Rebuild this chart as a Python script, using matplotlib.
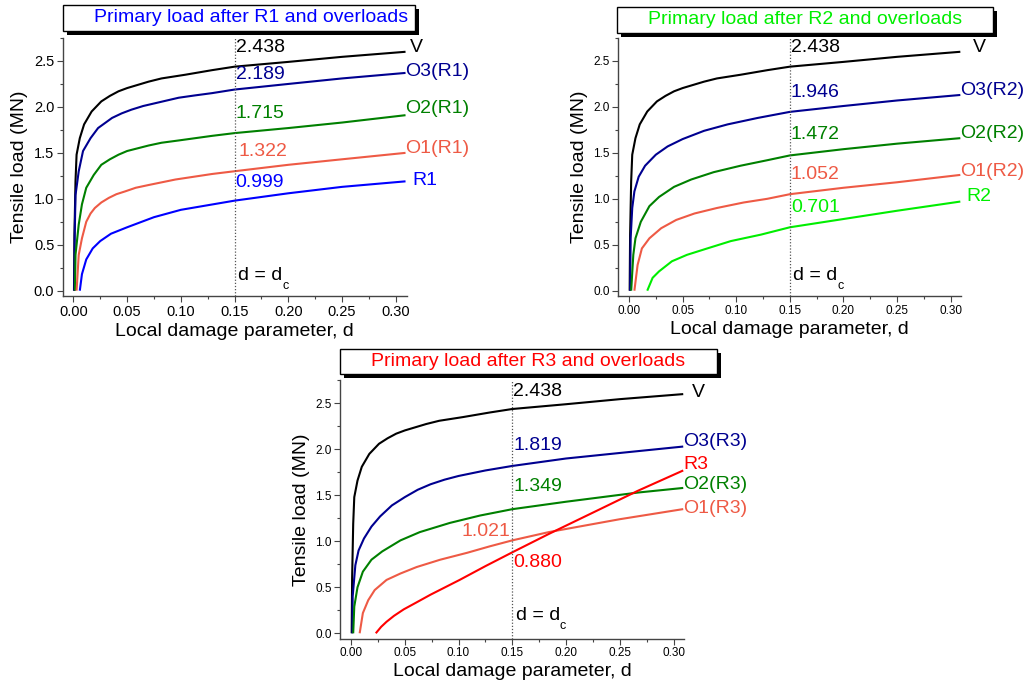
import numpy as np
import matplotlib
matplotlib.use('Agg')
import matplotlib.pyplot as plt
from matplotlib.patches import Rectangle
from matplotlib.ticker import MultipleLocator, FormatStrFormatter

plt.rcParams['font.family'] = ['Liberation Sans', 'DejaVu Sans']
plt.rcParams['mathtext.default'] = 'regular'

# valores (d, carga em MN)
d_V = [0.0006, 0.001, 0.002, 0.003, 0.006, 0.010, 0.017, 0.026, 0.034, 0.042, 0.050, 0.060, 0.070, 0.082, 0.093, 0.104, 0.129, 0.150, 0.200, 0.250, 0.309]
L_V = [0.00, 0.60, 1.19, 1.48, 1.66, 1.81, 1.95, 2.06, 2.12, 2.17, 2.205, 2.24, 2.275, 2.31, 2.33, 2.35, 2.40, 2.438, 2.49, 2.545, 2.60]

# painel R1
d_O3R1 = [0.0009, 0.0012, 0.002, 0.005, 0.009, 0.016, 0.023, 0.036, 0.045, 0.054, 0.065, 0.076, 0.087, 0.098, 0.113, 0.129, 0.150, 0.200, 0.250, 0.309]
L_O3R1 = [0.00, 0.57, 1.04, 1.30, 1.52, 1.66, 1.77, 1.88, 1.93, 1.97, 2.01, 2.04, 2.07, 2.10, 2.125, 2.15, 2.189, 2.25, 2.31, 2.37]
d_O2R1 = [0.0015, 0.002, 0.005, 0.008, 0.012, 0.019, 0.026, 0.034, 0.042, 0.050, 0.060, 0.070, 0.082, 0.098, 0.129, 0.150, 0.200, 0.250, 0.309]
L_O2R1 = [0.00, 0.39, 0.72, 0.94, 1.12, 1.26, 1.37, 1.43, 1.48, 1.52, 1.55, 1.58, 1.61, 1.635, 1.685, 1.715, 1.77, 1.83, 1.91]
d_O1R1 = [0.003, 0.005, 0.008, 0.012, 0.016, 0.020, 0.026, 0.033, 0.040, 0.048, 0.058, 0.070, 0.095, 0.129, 0.150, 0.200, 0.250, 0.309]
L_O1R1 = [0.00, 0.39, 0.57, 0.75, 0.84, 0.90, 0.96, 1.01, 1.05, 1.08, 1.12, 1.15, 1.21, 1.27, 1.30, 1.37, 1.43, 1.50]
d_R1 = [0.006, 0.008, 0.012, 0.018, 0.025, 0.035, 0.050, 0.075, 0.100, 0.125, 0.150, 0.200, 0.250, 0.309]
L_R1 = [0.00, 0.18, 0.34, 0.46, 0.54, 0.62, 0.69, 0.80, 0.88, 0.93, 0.98, 1.06, 1.13, 1.19]

# painel R2
d_O3R2 = [0.001, 0.0015, 0.003, 0.005, 0.009, 0.015, 0.025, 0.036, 0.050, 0.070, 0.092, 0.120, 0.150, 0.200, 0.250, 0.309]
L_O3R2 = [0.00, 0.57, 0.90, 1.08, 1.24, 1.36, 1.48, 1.57, 1.65, 1.74, 1.81, 1.88, 1.946, 2.01, 2.07, 2.13]
d_O2R2 = [0.002, 0.004, 0.006, 0.011, 0.019, 0.028, 0.042, 0.058, 0.079, 0.104, 0.129, 0.150, 0.200, 0.250, 0.309]
L_O2R2 = [0.00, 0.39, 0.57, 0.75, 0.92, 1.02, 1.13, 1.21, 1.29, 1.36, 1.42, 1.472, 1.54, 1.60, 1.66]
d_O1R2 = [0.005, 0.008, 0.012, 0.019, 0.030, 0.044, 0.061, 0.082, 0.107, 0.129, 0.150, 0.200, 0.250, 0.309]
L_O1R2 = [0.00, 0.28, 0.46, 0.57, 0.68, 0.77, 0.84, 0.90, 0.96, 1.00, 1.05, 1.12, 1.18, 1.26]
d_R2 = [0.017, 0.022, 0.028, 0.040, 0.054, 0.073, 0.095, 0.123, 0.150, 0.200, 0.250, 0.309]
L_R2 = [0.00, 0.14, 0.21, 0.32, 0.39, 0.46, 0.54, 0.61, 0.69, 0.78, 0.87, 0.97]

# painel R3
d_O3R3 = [0.0012, 0.0015, 0.004, 0.007, 0.012, 0.019, 0.027, 0.038, 0.050, 0.062, 0.074, 0.087, 0.100, 0.125, 0.150, 0.200, 0.250, 0.309]
L_O3R3 = [0.00, 0.40, 0.74, 0.90, 1.03, 1.16, 1.27, 1.39, 1.48, 1.56, 1.62, 1.67, 1.71, 1.77, 1.819, 1.90, 1.96, 2.03]
d_O2R3 = [0.002, 0.003, 0.006, 0.011, 0.019, 0.029, 0.046, 0.064, 0.092, 0.120, 0.150, 0.200, 0.267, 0.309]
L_O2R3 = [0.00, 0.29, 0.50, 0.67, 0.80, 0.89, 1.01, 1.10, 1.20, 1.28, 1.349, 1.43, 1.53, 1.58]
d_O1R3 = [0.008, 0.011, 0.016, 0.022, 0.033, 0.046, 0.061, 0.083, 0.108, 0.129, 0.150, 0.184, 0.250, 0.309]
L_O1R3 = [0.00, 0.22, 0.36, 0.47, 0.58, 0.65, 0.72, 0.80, 0.875, 0.945, 1.01, 1.10, 1.24, 1.35]
d_R3 = [0.023, 0.028, 0.033, 0.040, 0.049, 0.060, 0.074, 0.101, 0.125, 0.150, 0.184, 0.230, 0.267, 0.309]
L_R3 = [0.00, 0.07, 0.125, 0.19, 0.26, 0.33, 0.42, 0.58, 0.73, 0.88, 1.08, 1.34, 1.55, 1.77]

# cores
c_V = '#000000'
c_O3 = '#000090'
c_O2 = '#008000'
c_O1 = '#EE5A45'
c_R1 = '#0000FF'
c_R2 = '#00EE00'
c_R3 = '#FF0000'

d_c = 0.15

W, H = 1029, 685
fig = plt.figure(figsize=(W / 100, H / 100), dpi=100)


def px_box(x0, y0, x1, y1):
    # converte pixels (origem no topo) para fracao da figura
    return [x0 / W, 1 - y1 / H, (x1 - x0) / W, (y1 - y0) / H]


def title_box(x0, y0, x1, y1, txt, cor, tx=None):
    l, b, w, h = px_box(x0, y0, x1, y1)
    s = 4
    fig.patches.append(Rectangle((l + s / W, b - s / H), w, h, transform=fig.transFigure,
                                 facecolor='black', edgecolor='none', zorder=1))
    fig.patches.append(Rectangle((l, b), w, h, transform=fig.transFigure,
                                 facecolor='white', edgecolor='black', lw=1.0, zorder=2))
    if tx is None:
        tx = (x0 + x1) / 2
    fig.text(tx / W, b + h / 2, txt, color=cor, fontsize=14, ha='center', va='center', zorder=3)


def painel(pos, curvas, rotulos_dc, rotulos_fim, dc_y, tick_fs):
    ax = fig.add_axes(pos)
    for d, L, cor in curvas:
        ax.plot(d, L, color=cor, lw=1.5, solid_capstyle='butt', solid_joinstyle='round')
    ax.axvline(d_c, color='#555555', lw=0.9, linestyle=(0, (1, 1.5)))
    ax.set_xlim(-0.01, 0.31)
    ax.set_ylim(-0.06, 2.75)
    ax.xaxis.set_major_locator(MultipleLocator(0.05))
    ax.xaxis.set_minor_locator(MultipleLocator(0.025))
    ax.yaxis.set_major_locator(MultipleLocator(0.5))
    ax.yaxis.set_minor_locator(MultipleLocator(0.25))
    ax.xaxis.set_major_formatter(FormatStrFormatter('%.2f'))
    ax.yaxis.set_major_formatter(FormatStrFormatter('%.1f'))
    for s in ['top', 'right']:
        ax.spines[s].set_visible(False)
    for s in ['left', 'bottom']:
        ax.spines[s].set_color('#444444')
        ax.spines[s].set_linewidth(1.0)
    ax.tick_params(which='major', direction='out', length=4, width=0.8, color='#444444',
                   labelsize=tick_fs, pad=2)
    ax.tick_params(which='minor', direction='out', length=2.5, width=0.8, color='#444444')
    ax.set_xlabel('Local damage parameter, d', fontsize=14, labelpad=3)
    ax.set_ylabel('Tensile load (MN)', fontsize=14, labelpad=4)
    for x, y, txt, cor, ha in rotulos_dc:
        ax.text(x, y, txt, color=cor, fontsize=14, ha=ha, va='center')
    for x, y, txt, cor in rotulos_fim:
        ax.text(x, y, txt, color=cor, fontsize=14, ha='left', va='center', clip_on=False)
    ax.text(0.153, dc_y, 'd = d', fontsize=14, ha='left', va='center')
    ax.annotate('c', xy=(0.153, dc_y), xytext=(32, -7), textcoords='offset points',
                fontsize=9, ha='left', va='center')
    return ax


# painel superior esquerdo
painel(px_box(62.6, 38, 406.6, 296.2),
       [(d_V, L_V, c_V), (d_O3R1, L_O3R1, c_O3), (d_O2R1, L_O2R1, c_O2),
        (d_O1R1, L_O1R1, c_O1), (d_R1, L_R1, c_R1)],
       [(0.151, 2.65, '2.438', c_V, 'left'), (0.151, 2.35, '2.189', c_O3, 'left'),
        (0.151, 1.93, '1.715', c_O2, 'left'), (0.154, 1.51, '1.322', c_O1, 'left'),
        (0.151, 1.18, '0.999', c_R1, 'left')],
       [(0.313, 2.65, 'V', c_V), (0.309, 2.38, 'O3(R1)', c_O3), (0.309, 1.98, 'O2(R1)', c_O2),
        (0.309, 1.55, 'O1(R1)', c_O1), (0.315, 1.20, 'R1', c_R1)],
       0.16, 10.5)

# painel superior direito
painel(px_box(618.3, 38, 961.4, 296.2),
       [(d_V, L_V, c_V), (d_O3R2, L_O3R2, c_O3), (d_O2R2, L_O2R2, c_O2),
        (d_O1R2, L_O1R2, c_O1), (d_R2, L_R2, c_R2)],
       [(0.151, 2.65, '2.438', c_V, 'left'), (0.151, 2.16, '1.946', c_O3, 'left'),
        (0.151, 1.70, '1.472', c_O2, 'left'), (0.151, 1.26, '1.052', c_O1, 'left'),
        (0.151, 0.91, '0.701', c_R2, 'left')],
       [(0.321, 2.65, 'V', c_V), (0.309, 2.18, 'O3(R2)', c_O3), (0.309, 1.71, 'O2(R2)', c_O2),
        (0.309, 1.30, 'O1(R2)', c_O1), (0.315, 1.03, 'R2', c_R2)],
       0.16, 8.5)

# painel inferior
painel(px_box(340.3, 380.3, 684.3, 638.8),
       [(d_V, L_V, c_V), (d_O3R3, L_O3R3, c_O3), (d_O2R3, L_O2R3, c_O2),
        (d_O1R3, L_O1R3, c_O1), (d_R3, L_R3, c_R3)],
       [(0.151, 2.63, '2.438', c_V, 'left'), (0.151, 2.04, '1.819', c_O3, 'left'),
        (0.151, 1.60, '1.349', c_O2, 'left'), (0.148, 1.11, '1.021', c_O1, 'right'),
        (0.151, 0.77, '0.880', c_R3, 'left')],
       [(0.317, 2.62, 'V', c_V), (0.309, 2.08, 'O3(R3)', c_O3), (0.309, 1.83, 'R3', c_R3),
        (0.309, 1.62, 'O2(R3)', c_O2), (0.309, 1.36, 'O1(R3)', c_O1)],
       0.19, 8.5)

title_box(63, 5, 415, 31, 'Primary load after R1 and overloads', c_R1, tx=251)
title_box(617, 7, 993, 33, 'Primary load after R2 and overloads', c_R2)
title_box(340, 349, 717, 374, 'Primary load after R3 and overloads', c_R3)

fig.savefig('out.png', dpi=100, facecolor='white')
